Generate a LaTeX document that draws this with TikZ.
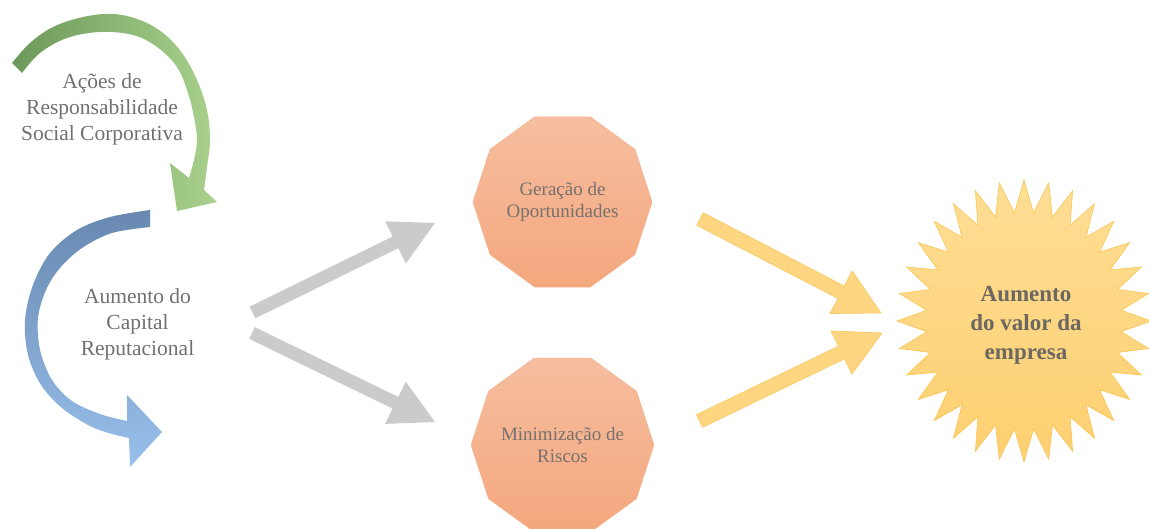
\documentclass[tikz,border=0pt]{standalone}
\usepackage{fontspec}
\setmainfont{Liberation Serif}
\usetikzlibrary{shapes.geometric,calc}

\definecolor{txtgray}{RGB}{112,112,112}
\definecolor{dectxt}{RGB}{120,112,108}
\definecolor{startxt}{RGB}{108,103,96}
\definecolor{greendark}{RGB}{108,152,90}
\definecolor{greenlight}{RGB}{170,210,142}
\definecolor{bluedark}{RGB}{104,136,176}
\definecolor{bluelight}{RGB}{152,192,236}
\definecolor{grayarrow}{RGB}{203,203,203}
\definecolor{yelfill}{RGB}{254,213,128}
\definecolor{yeldraw}{RGB}{250,200,95}
\definecolor{dectop}{RGB}{246,190,160}
\definecolor{decbot}{RGB}{244,167,125}
\definecolor{decdraw}{RGB}{245,178,140}
\definecolor{startop}{RGB}{254,222,150}
\definecolor{starbot}{RGB}{253,207,112}
\definecolor{stardraw}{RGB}{250,197,80}

% block arrow: style, tail centre, tip, half shaft width, half head width, head length
\newcommand{\blockarrow}[6]{%
  \path[#1] ($(#2)!#4!90:(#3)$)
    -- ($(#3)!#6!(#2)!#4!90:(#3)$)
    -- ($(#3)!#6!(#2)!#5!90:(#3)$)
    -- (#3)
    -- ($(#3)!#6!(#2)!#5!-90:(#3)$)
    -- ($(#3)!#6!(#2)!#4!-90:(#3)$)
    -- ($(#2)!#4!-90:(#3)$) -- cycle;}

\tikzset{
  lefttext/.style={align=center, text=txtgray, inner sep=0pt,
    font=\fontsize{21.5}{26}\selectfont},
  decagon/.style={regular polygon, regular polygon sides=10,
    minimum size=179pt, inner sep=0pt, top color=dectop, bottom color=decbot,
    draw=decdraw, line width=0.6pt, align=center, text=dectxt,
    font=\fontsize{19}{21.5}\selectfont},
  startext/.style={align=center, text=startxt, inner sep=0pt,
    font=\bfseries\fontsize{23}{29}\selectfont},
  grayblock/.style={fill=grayarrow},
  yelblock/.style={fill=yelfill, draw=yeldraw, line width=0.6pt, line join=miter},
}

\begin{document}
\begin{tikzpicture}[x=1pt, y=-1pt]
\useasboundingbox (0,0) rectangle (1149,529);

% green curved arrow (social responsibility actions)
\path[left color=greendark, right color=greenlight]
  plot[smooth, tension=0.6] coordinates {(12,63) (30,43) (53,27) (83,17) (113,14)
     (140,20) (163,33) (182,53) (197,80) (207,110) (210,140) (207,167) (204,190)}
  -- (217,202) -- (177,211) -- (170,163)
  -- plot[smooth, tension=0.6] coordinates {(189,178) (194,160) (197,140) (194,117)
     (188,93) (177,67) (157,47) (133,35) (100,32) (67,38) (40,53) (22,73)}
  -- cycle;

% blue curved arrow (reputational capital)
\path[top color=bluedark, bottom color=bluelight]
  plot[smooth, tension=0.55] coordinates {(150,210) (110,217) (77,230) (50,253)
     (33,285) (25,320) (28,355) (41,385) (62,408) (90,426) (112,434) (129,438)}
  -- (130,467) -- (162,432) -- (127,395)
  -- plot[smooth, tension=0.55] coordinates {(127,421) (100,414) (72,401) (52,380)
     (40,350) (38,318) (46,290) (60,268) (82,248) (112,233) (150,227)}
  -- cycle;

% texts on the left
\node[lefttext] (rsc) at (102,109.5) {Ações de\\Responsabilidade\\Social Corporativa};
\node[lefttext] (capital) at (137.5,324) {Aumento do\\Capital\\Reputacional};

% decagons
\node[decagon] (geracao) at (562.5,202) {Geração de\\Oportunidades};
\node[decagon] (riscos) at (562.5,445) {Minimização de\\Riscos};

% 32-point star
\path[top color=startop, bottom color=starbot, draw=stardraw, line width=0.6pt]
  (1024,180) \foreach \k [evaluate=\k as \r using {ifthenelse(mod(\k,2)==0,1,0.77)}] in {1,...,63}
  { -- ({1024+127*\r*cos(90+\k*5.625)}, {321-141*\r*sin(90+\k*5.625)}) } -- cycle;
\node[startext] (valor) at (1026,325) {Aumento\\do valor da\\empresa};

% arrow end points
\coordinate (g1s) at (252.5,312.5);
\coordinate (g1t) at (435,223);
\coordinate (g2s) at (252,333);
\coordinate (g2t) at (435,422);
\coordinate (y1s) at (700,219);
\coordinate (y1t) at (881,313);
\coordinate (y2s) at (699.5,421);
\coordinate (y2t) at (882,333);

% grey arrows towards the decagons
\blockarrow{grayblock}{g1s}{g1t}{6.5pt}{23.5pt}{44pt}
\blockarrow{grayblock}{g2s}{g2t}{6.5pt}{23.5pt}{44pt}

% yellow arrows towards the star
\blockarrow{yelblock}{y1s}{y1t}{7pt}{24pt}{45pt}
\blockarrow{yelblock}{y2s}{y2t}{7pt}{24pt}{45pt}
\end{tikzpicture}
\end{document}
